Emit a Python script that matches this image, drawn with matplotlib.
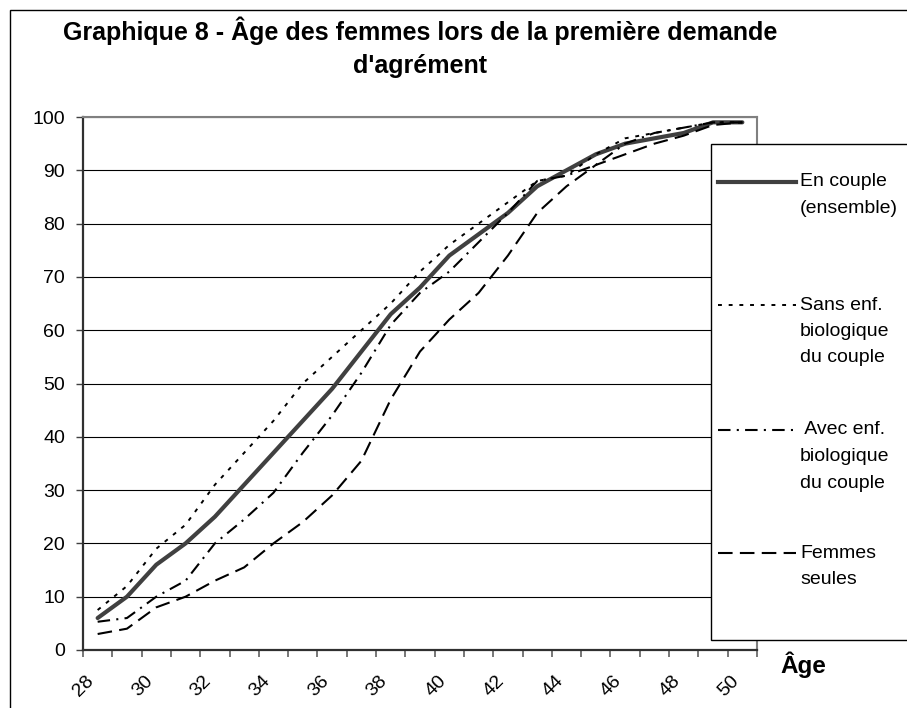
import matplotlib
matplotlib.use("Agg")
import matplotlib.pyplot as plt
import matplotlib.transforms as mtransforms
from matplotlib.lines import Line2D
from matplotlib.patches import Rectangle

plt.rcParams['font.family'] = ['Liberation Sans', 'DejaVu Sans']

# ages (categories) and cumulative shares (%)
ages = list(range(28, 51))
en_couple = [6, 10, 16, 20, 25, 31, 37, 43, 49, 56, 63, 68, 74, 78, 82, 87, 90, 93, 95, 96, 97, 99, 99]
sans_enf = [7.5, 12, 19, 23.5, 31, 37, 43, 50, 55, 60, 65, 71, 76, 80, 84, 88, 89, 93, 96, 97, 98, 99, 99]
avec_enf = [5.3, 6, 10, 13, 20, 24.5, 29.5, 37, 44, 52, 61, 67, 71, 76.5, 82, 88, 89, 91, 95, 97, 98, 99, 99]
femmes_seules = [3, 4, 8, 10, 13, 15.5, 20, 24, 29, 35.5, 47, 56, 62, 67, 74, 82, 87, 91, 93, 95, 96.5, 98.5, 99]

legend_labels = ["En couple\n(ensemble)", "Sans enf.\nbiologique\ndu couple",
                 " Avec enf.\nbiologique\ndu couple", "Femmes\nseules"]

W, H = 907, 708
fig = plt.figure(figsize=(W / 100, H / 100), dpi=100)

def fx(x):
    return x / W

def fy(y):
    return 1 - y / H

# outer frame of the chart object
fig.add_artist(Rectangle((fx(10), fy(800)), fx(1000), fy(10) - fy(800),
                         fill=False, edgecolor='black', lw=1.0, transform=fig.transFigure))

ax = fig.add_axes([fx(83), fy(650), fx(757) - fx(83), fy(117) - fy(650)])

x = list(range(len(ages)))
styles = [
    dict(color='#404040', lw=3.0, ls='-'),
    dict(color='black', lw=1.4, ls=(0, (2, 3.5))),
    dict(color='black', lw=1.5, ls=(0, (6, 3, 1, 3))),
    dict(color='black', lw=1.5, ls=(0, (7, 3.5))),
]
for vals, st in zip([en_couple, sans_enf, avec_enf, femmes_seules], styles):
    ax.plot(x, vals, solid_capstyle='round', zorder=3, **st)

ax.set_xlim(-0.5, len(ages) - 0.5)
ax.set_ylim(0, 100)
ax.set_yticks(range(0, 101, 10))
ax.yaxis.grid(True, color='black', lw=0.8)
ax.set_axisbelow(True)

ax.set_xticks(x[::2])
ax.set_xticklabels([str(a) for a in ages[::2]], rotation=45, ha='right', va='top', fontsize=14)
shift = mtransforms.ScaledTranslation(-14 / 100, 0, fig.dpi_scale_trans)
for lbl in ax.get_xticklabels():
    lbl.set_transform(lbl.get_transform() + shift)
ax.set_xticks([i - 0.5 for i in range(len(ages) + 1)], minor=True)
ax.tick_params(axis='x', which='major', length=0, pad=16)
ax.tick_params(axis='x', which='minor', length=5, color='#606060', width=1.2)
ax.tick_params(axis='y', length=5, color='#404040', width=1, pad=8, labelsize=14)

for s in ['top', 'right']:
    ax.spines[s].set_color('#808080')
    ax.spines[s].set_linewidth(1.5)
for s in ['left', 'bottom']:
    ax.spines[s].set_color('#303030')
    ax.spines[s].set_linewidth(1.6)

# title
fig.text(fx(420), fy(31), "Graphique 8 - Âge des femmes lors de la première demande",
         ha='center', va='center', fontsize=18, fontweight='bold')
fig.text(fx(420), fy(66), "d'agrément", ha='center', va='center', fontsize=18, fontweight='bold')
fig.text(fx(780), fy(665), "Âge", ha='left', va='center', fontsize=17.5, fontweight='bold')

# legend box
fig.add_artist(Rectangle((fx(711), fy(640)), fx(400), fy(144) - fy(640),
                         facecolor='white', edgecolor='black', lw=1.0,
                         transform=fig.transFigure, zorder=5))
rows = [182, 305, 430, 553]
for lab, st, y in zip(legend_labels, styles, rows):
    fig.add_artist(Line2D([fx(718), fx(796)], [fy(y), fy(y)], transform=fig.transFigure,
                          zorder=6, **st))
    for k, line in enumerate(lab.split("\n")):
        fig.text(fx(800), fy(y + k * 26.5), line, ha='left', va='center',
                 fontsize=14, zorder=7)

fig.savefig("out.png", dpi=100)
